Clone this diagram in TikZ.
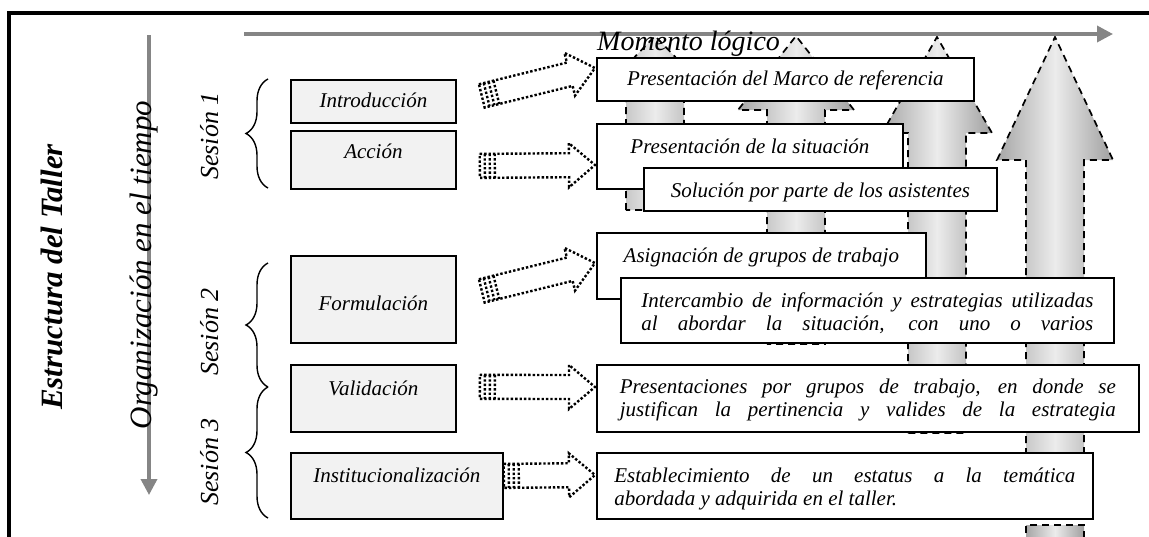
\documentclass[tikz,border=0pt]{standalone}
\usepackage{fontspec}
\setmainfont{Liberation Serif}
\usetikzlibrary{calc,arrows.meta,decorations.pathreplacing}

\newcommand\renglon[2]{\hbox{\makebox[#1][s]{#2}}}
\newcommand\hueca[2]{%
  \coordinate (ht) at #1;
  \coordinate (hp) at #2;
  \coordinate (hb) at ($(hp)!26pt!(ht)$);
  \draw[hueca] ($(ht)!12pt!90:(hp)$) -- ($(hb)!12pt!-90:(ht)$) -- ($(hb)!22pt!-90:(ht)$) -- (hp)
    -- ($(hb)!22pt!90:(ht)$) -- ($(hb)!12pt!90:(ht)$) -- ($(ht)!12pt!-90:(hp)$) -- cycle;
  \foreach \d in {5pt,10pt,15pt}{
    \coordinate (hd) at ($(ht)!\d!(hp)$);
    \draw[hueca] ($(hd)!12pt!90:(hp)$) -- ($(hd)!12pt!-90:(hp)$);
  }
}

\tikzset{
  etapa/.style={draw, line width=1.8pt, fill=gray!10, inner sep=0pt, anchor=north west},
  tarea/.style={etapa, fill=white},
  flecha/.style={dash pattern=on 7pt off 5pt, line width=1.7pt, left color=gray!70, right color=gray!75, middle color=gray!15},
  hueca/.style={line width=2.4pt, dash pattern=on 2.4pt off 2pt},
  llave/.style={decorate, decoration={brace, amplitude=22pt}, line width=1.4pt},
  eje/.style={black!48, line width=3.5pt, -{Stealth[length=16pt, width=16pt, inset=0pt]}},
  sesion/.style={rotate=90, anchor=base, inner sep=0pt, font=\fontsize{26}{26}\selectfont\itshape},
}

\begin{document}
\begin{tikzpicture}[x=1pt, y=-1pt, >=stealth, font=\fontsize{21}{23}\selectfont\itshape]
\useasboundingbox (0,0) rectangle (1149,536);
\draw[line width=4pt] (9,545) -- (9,13) -- (1155,13);

% momentos
\foreach \cx/\ya/\yb/\yc/\hw in {655/36/95/210/57, 796/36/110/344/58, 937/37/133/433/55, 1055/37/160/515/58}
  \draw[flecha] (\cx-29,\yc) -- (\cx-29,\yb) -- (\cx-\hw,\yb) -- (\cx,\ya) -- (\cx+\hw,\yb) -- (\cx+29,\yb) -- (\cx+29,\yc) -- cycle;
\draw[flecha] (1026,545) -- (1026,525) -- (1084,525) -- (1084,545);

\draw[eje] (244,34) -- (1113,34);
\draw[eje] (149,35) -- (149,495);
\node[anchor=base west, inner sep=0pt, font=\fontsize{28}{28}\selectfont\itshape] (momento) at (597,50) {Momento lógico};

\node[rotate=90, anchor=base, inner sep=0pt, font=\fontsize{31}{31}\selectfont\bfseries\itshape] (taller) at (62,277) {Estructura del Taller};
\node[rotate=90, anchor=base, inner sep=0pt, font=\fontsize{31}{31}\selectfont\itshape] (tiempo) at (151,265) {Organización en el tiempo};
\node[sesion] (s1) at (218,136) {Sesión 1};
\node[sesion] (s2) at (218,332) {Sesión 2};
\node[sesion] (s3) at (218,462) {Sesión 3};
\draw[llave] (268,188) -- (268,79);
\draw[llave] (268,387) -- (268,263);
\draw[llave] (268,518) -- (268,387);

\node[etapa, minimum width=165pt, minimum height=43pt, text height=28pt, text depth=15pt] (intro) at (290,79) {Introducción};
\node[etapa, minimum width=165pt, minimum height=58pt, text height=28pt, text depth=30pt] (accion) at (290,130) {Acción};
\node[etapa, minimum width=165pt, minimum height=87pt, text height=55pt, text depth=32pt] (formul) at (290,255) {Formulación};
\node[etapa, minimum width=165pt, minimum height=67pt, text height=31pt, text depth=36pt] (valid) at (290,364) {Validación};
\node[etapa, minimum width=212pt, minimum height=66pt, text height=30pt, text depth=36pt] (instit) at (290,452) {Institucionalización};

\node[tarea, minimum width=377pt, minimum height=43pt, text height=28pt, text depth=15pt] (marco) at (596,57) {Presentación del Marco de referencia};
\node[tarea, minimum width=306pt, minimum height=65pt, text height=30pt, text depth=35pt] (situa) at (596,123) {Presentación de la situación};
\node[tarea, minimum width=353pt, minimum height=43pt, text height=30pt, text depth=13pt] (soluc) at (643,167) {Solución por parte de los asistentes};
\node[tarea, minimum width=329pt, minimum height=66pt, text height=30pt, text depth=36pt] (asign) at (596,232) {Asignación de grupos de trabajo};
\node[tarea, minimum width=493pt, minimum height=65pt, text height=30pt, text depth=35pt] (inter) at (620,277)
  {\vtop{\renglon{452pt}{Intercambio de información y estrategias utilizadas}\renglon{452pt}{al abordar la situación, con uno o varios}}};
\node[tarea, minimum width=542pt, minimum height=67pt, text height=29pt, text depth=38pt] (present) at (596,364)
  {\vtop{\renglon{496pt}{Presentaciones por grupos de trabajo, en donde se}\renglon{496pt}{justifican la pertinencia y valides de la estrategia}}};
\node[tarea, minimum width=496pt, minimum height=66pt, text height=30pt, text depth=36pt] (estab) at (596,452)
  {\vtop{\renglon{461pt}{Establecimiento de un estatus a la temática}\hbox{abordada y adquirida en el taller.}}};

\hueca{($(intro.east)+(25,-5.5)$)}{($(marco.north west)+(-1,11)$)}
\hueca{($(accion.east)+(23,6)$)}{($(situa.north west)+(-1,42)$)}
\hueca{($(formul.east)+(25,-8.5)$)}{($(asign.north west)+(-1,31)$)}
\hueca{($(valid.east)+(23,-11.5)$)}{($(present.north west)+(-1,23)$)}
\hueca{($(instit.east)+(0,-10)$)}{($(estab.north west)+(-1,23)$)}
\end{tikzpicture}
\end{document}
